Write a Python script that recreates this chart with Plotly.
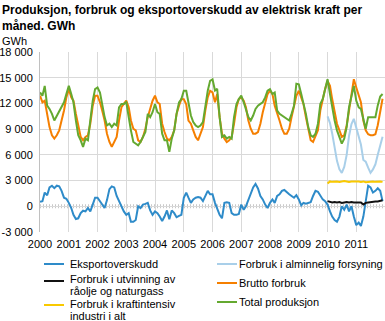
import pandas as pd
import plotly.graph_objects as go

# Monthly values, GWh, January 2000 - December 2011
months = pd.date_range("2000-01-01", periods=144, freq="MS")
months_2010 = months[120:]

eksportoverskudd = [
    520, 600, 1600, 1280, 2200, 2400, 2120, 2400, 2320, 1800, 1000, 880,
    400, -200, -1000, -1480, -1400, -800, -520, -600, -200, -600, 200, 1000,
    1000, 600, 320, -200, 720, 2000, 2320, 2200, 1200, 600, 0, -600,
    -1000, -800, -1800, -1800, -1600, 0, -200, 200, 280, 400, -480, -1000,
    -600, -800, -1200, -1720, -1200, -480, -1520, -480, -800, -1280, -1120, -1000,
    1000, 1600, 1000, 400, 800, 1000, 1080, 1000, 600, 1200, 1800, 1400,
    1400, 400, -400, -1000, -1400, 400, 480, 400, -800, -1000, -1000, -900,
    200, -400, 0, 800, 1600, 2200, 2600, 2080, 1200, 800, 200, -200,
    400, 800, 400, 1200, 1400, 1800, 1900, 1600, 1400, 1200, 1000, 1300,
    800, 100, 400, 300, 400, 480, 1200, 1800, 1700, 1200, 800, 600,
    200, -600, -1200, -1600, -1800, -1200, 0, -400, 200, -600, 0, -1200,
    -2200, -1900, -2300, -1200, 800, 2400, 2200, 1600, 1800, 2100, 1800, 600,
]

brutto_forbruk = [
    12900, 12130, 12320, 10780, 9240, 8280, 7890, 8280, 8860, 10010, 11170, 12700,
    13670, 12700, 12320, 10780, 9240, 8090, 7700, 8090, 8280, 9630, 11740, 12900,
    12900, 12130, 11170, 10010, 8470, 7500, 6930, 7500, 8090, 10010, 11550, 11940,
    12320, 11550, 10010, 9050, 8860, 7700, 7500, 8090, 9050, 10400, 11550, 12320,
    12900, 12130, 11940, 9630, 8660, 7890, 7700, 8090, 8860, 10780, 11740, 12510,
    12500, 11900, 10010, 9630, 8860, 8090, 7700, 8470, 9240, 11170, 12700, 13480,
    13280, 12130, 13090, 10400, 8470, 7890, 7500, 7700, 8090, 9630, 11550, 12510,
    12700, 12320, 11550, 10010, 9050, 8470, 8470, 8660, 9630, 10970, 11940, 13090,
    13480, 13090, 11740, 10970, 10010, 9050, 8470, 8470, 9050, 10400, 11550, 12900,
    13480, 12700, 11940, 10400, 8860, 7700, 7500, 8090, 8860, 11170, 12510, 13670,
    14630, 14050, 12510, 10780, 9630, 8860, 8090, 8280, 9430, 11170, 12900, 14820,
    13860, 12900, 12130, 10010, 8860, 8400, 8300, 8300, 8400, 9460, 11000, 12540,
]

total_produksjon = [
    13280, 12900, 14050, 11740, 11360, 10780, 10010, 10590, 11170, 11740, 12130, 13090,
    14050, 13090, 12130, 10010, 8280, 7700, 6930, 7890, 7700, 10010, 12320, 13670,
    13860, 13280, 11940, 10400, 9430, 9630, 9240, 9630, 9430, 11550, 11940, 11940,
    12130, 10200, 8860, 7500, 7310, 7120, 7500, 8090, 8660, 10780, 10400, 10970,
    11940, 10970, 10780, 8470, 7700, 7700, 6350, 7890, 8860, 10780, 12130, 12510,
    13480, 13480, 11940, 10590, 9820, 9430, 9240, 9430, 9820, 11550, 13480, 14630,
    14800, 13500, 13700, 10400, 8090, 8280, 7890, 8090, 7890, 10400, 11940, 12510,
    12900, 12130, 11170, 10400, 10010, 10590, 11360, 11740, 11940, 12130, 12700, 13480,
    13670, 13090, 13280, 11170, 10780, 10590, 10400, 10200, 10010, 10780, 11740, 14300,
    14240, 13090, 12130, 10780, 9240, 8280, 8090, 8470, 9630, 11940, 12510, 13860,
    14820, 13090, 11550, 10010, 8860, 8090, 7310, 7890, 9240, 11550, 12700, 14050,
    12320, 11550, 11360, 10010, 9050, 10400, 10400, 10400, 10400, 11770, 12800, 13100,
]

# Breakdown of consumption, published from 2010
alminnelig_forsyning = [
    10500, 9700, 8500, 6900, 5300, 4300, 3900, 4600, 6000, 8200, 9600, 10200,
    9100, 8100, 7200, 5400, 5200, 4500, 3900, 4300, 4900, 6000, 7200, 8100,
]
utvinning_olje_gass = [
    600, 500, 450, 500, 450, 500, 400, 450, 500, 450, 500, 450,
    450, 500, 450, 200, 400, 450, 500, 500, 550, 550, 600, 700,
]
kraftintensiv_industri = [
    2650, 2900, 2850, 2900, 2900, 2850, 2900, 2950, 2900, 2850, 2900, 2900,
    2950, 2900, 2850, 2900, 2800, 2850, 2900, 2900, 2850, 2900, 2900, 2850,
]

year_ticks = [str(y) for y in range(2000, 2012)]
y_ticks = [-3000, 0, 3000, 6000, 9000, 12000, 15000, 18000]
y_tick_labels = ["-3 000", "0", "3 000", "6 000", "9 000", "12 000", "15 000", "18 000"]

names = {
    "eks": "Eksportoverskudd",
    "utv": ["Forbruk i utvinning av", "råolje og naturgass"],
    "kraft": ["Forbruk i kraftintensiv", "industri i alt"],
    "alm": "Forbruk i alminnelig forsyning",
    "brutto": "Brutto forbruk",
    "total": "Total produksjon",
}
colors = {
    "eks": "#2e8bc9",
    "utv": "#111111",
    "kraft": "#f9c900",
    "alm": "#a9cfe9",
    "brutto": "#f57f00",
    "total": "#64a930",
}

W, H = 385, 321
L, R, T, B = 40, 0, 52, 89
PW, PH = W - L - R, H - T - B


def px(x):
    return (x - L) / PW


def py(y):
    return (H - B - y) / PH


FONT = "Liberation Sans, Arial, sans-serif"
fig = go.Figure()

series = [
    ("eks", months, eksportoverskudd),
    ("utv", months_2010, utvinning_olje_gass),
    ("kraft", months_2010, kraftintensiv_industri),
    ("alm", months_2010, alminnelig_forsyning),
    ("brutto", months, brutto_forbruk),
    ("total", months, total_produksjon),
]
for key, xs, ys in series:
    nm = names[key] if isinstance(names[key], str) else " ".join(names[key])
    fig.add_trace(go.Scatter(
        x=xs, y=ys, mode="lines", name=nm,
        line=dict(color=colors[key], width=2),
        showlegend=False, hoverinfo="skip",
    ))

shapes = [
    # hatched zero line
    dict(type="line", xref="paper", yref="y", x0=0, x1=1, y0=0, y1=0,
         line=dict(color="#c8c8c8", width=4, dash="1px,2px"), layer="below"),
]
annotations = [
    dict(text="<b>Produksjon, forbruk og eksportoverskudd av elektrisk kraft per</b>",
         xref="paper", yref="paper", x=px(0), y=py(10), xanchor="left", yanchor="middle",
         showarrow=False, font=dict(size=12, color="#000", family=FONT)),
    dict(text="<b>måned. GWh</b>",
         xref="paper", yref="paper", x=px(0), y=py(26), xanchor="left", yanchor="middle",
         showarrow=False, font=dict(size=12, color="#000", family=FONT)),
    dict(text="GWh", xref="paper", yref="paper", x=px(0), y=py(41),
         xanchor="left", yanchor="middle", showarrow=False,
         font=dict(size=11, color="#000", family=FONT)),
]

# legend: two columns, sample line + text lines
legend_items = [
    ("eks", 44, 68, 264, [264]),
    ("utv", 44, 68, 281, [279, 291]),
    ("kraft", 44, 68, 305, [304, 316]),
    ("alm", 217, 237, 264, [264]),
    ("brutto", 217, 237, 283, [283]),
    ("total", 217, 237, 302, [302]),
]
for key, lx, tx, ly, text_ys in legend_items:
    shapes.append(dict(type="line", xref="paper", yref="paper",
                       x0=px(lx), x1=px(lx + 20), y0=py(ly), y1=py(ly),
                       line=dict(color=colors[key], width=2)))
    lines = names[key] if isinstance(names[key], list) else [names[key]]
    for txt, ty in zip(lines, text_ys):
        annotations.append(dict(text=txt, xref="paper", yref="paper",
                                x=px(tx), y=py(ty), xanchor="left", yanchor="middle",
                                showarrow=False,
                                font=dict(size=11, color="#000", family=FONT)))

fig.update_layout(
    width=W, height=H, autosize=False,
    margin=dict(l=L, r=R, t=T, b=B, pad=0),
    plot_bgcolor="white", paper_bgcolor="white",
    font=dict(family=FONT, size=11, color="#000"),
    showlegend=False,
    shapes=shapes, annotations=annotations,
    xaxis=dict(
        type="date", range=["2000-01-01", "2012-01-01"],
        tickvals=[f"{y}-01-01" for y in year_ticks], ticktext=year_ticks,
        showgrid=True, gridcolor="#d9d9d9", gridwidth=1,
        ticks="outside", ticklen=2, tickcolor="rgba(0,0,0,0)",
        showline=False, zeroline=False, fixedrange=True,
    ),
    yaxis=dict(
        range=[-3000, 18000], tickvals=y_ticks, ticktext=y_tick_labels,
        showgrid=True, gridcolor="#d9d9d9", gridwidth=1,
        ticks="outside", ticklen=4, tickcolor="rgba(0,0,0,0)",
        showline=True, linecolor="#c0c0c0", linewidth=1,
        zeroline=False, fixedrange=True,
    ),
)

fig.write_html("out.html", config={"displayModeBar": False})
